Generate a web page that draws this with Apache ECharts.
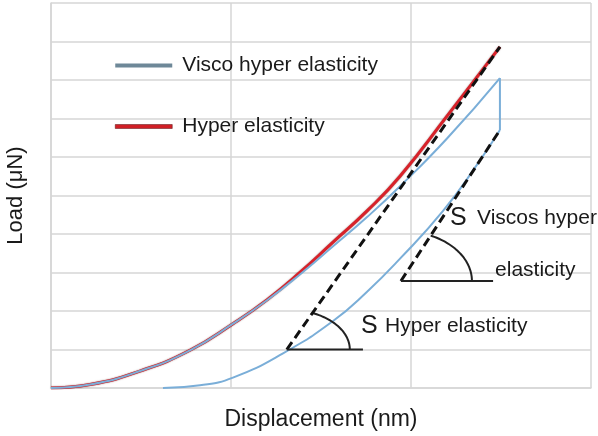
<!DOCTYPE html>
<html>
<head>
<meta charset="utf-8">
<title>Load vs displacement</title>
<script src="https://cdn.jsdelivr.net/npm/echarts@6/dist/echarts.min.js"></script>
<style>
  html, body { margin: 0; padding: 0; background: #ffffff; }
  #chart { width: 598px; height: 436px; }
</style>
</head>
<body>
<div id="chart"></div>
<script>
// Displacement (x) and load (y) samples, arbitrary units
const hyperX = [0, 0.217, 0.494, 0.772, 1.011, 1.2, 1.383, 1.567, 1.756, 1.939, 2.2, 2.494];
const hyperY = [0, 0.09, 0.44, 0.98, 1.67, 2.29, 3.0, 3.79, 4.6, 5.5, 7.06, 8.86];

const viscoLoadX = [0, 0.217, 0.494, 0.772, 1.011, 1.2, 1.383, 1.567, 1.756, 1.939, 2.2, 2.494];
const viscoLoadY = [0, 0.09, 0.44, 0.98, 1.67, 2.28, 2.95, 3.68, 4.44, 5.24, 6.48, 8.05];

// hold at peak displacement (creep drop)
const viscoHoldX = [2.494, 2.494];
const viscoHoldY = [8.05, 6.70];

// unloading branch, listed from zero load up to the peak
const viscoUnloadX = [0.622, 0.828, 1.011, 1.289, 1.567, 1.756, 1.939, 2.178, 2.367, 2.494];
const viscoUnloadY = [0, 0.07, 0.27, 0.9, 1.74, 2.5, 3.36, 4.6, 5.8, 6.70];

// stiffness tangents: [x0, y0, x1, y1]
const tangentHyper = [1.31, 1.0, 2.494, 8.86];
const tangentVisco = [1.944, 2.78, 2.494, 6.70];
// horizontal reference line length (x end) for each tangent
const baseHyperEnd = 1.733;
const baseViscoEnd = 2.456;

// annotation labels
const noteText = ['S', 'Hyper elasticity', 'S', 'Viscos hyper', 'elasticity'];
const noteX = [1.722, 1.856, 2.217, 2.367, 2.467];
const noteY = [1.61, 1.61, 4.42, 4.42, 3.06];

const NAME_VISCO = 'Visco hyper elasticity';
const NAME_HYPER = 'Hyper elasticity';

const zip = (xs, ys) => xs.map((x, i) => [x, ys[i]]);

const FONT = '"Liberation Sans", Arial, Helvetica, sans-serif';
const GRID_COLOR = '#d6d6d6';
const BLUE = '#7aaed8';
const RED = '#d8222a';

const chart = echarts.init(document.getElementById('chart'));

// angle arc between the horizontal base line and a tangent line
function arcRenderer(rx, ry) {
  return function (params, api) {
    const v = api.coord([api.value(0), api.value(1)]);
    const e = api.coord([api.value(2), api.value(3)]);
    const end = Math.atan2(v[1] - e[1], e[0] - v[0]);
    // point where the ellipse meets the tangent direction
    const dx = Math.cos(end), dy = Math.sin(end);
    const t = 1 / Math.sqrt((dx / rx) * (dx / rx) + (dy / ry) * (dy / ry));
    const theta = Math.atan2((t * dy) / ry, (t * dx) / rx);
    const pts = [];
    const n = 40;
    for (let i = 0; i <= n; i++) {
      const a = (theta * i) / n;
      pts.push([v[0] + rx * Math.cos(a), v[1] - ry * Math.sin(a)]);
    }
    return {
      type: 'polyline',
      shape: { points: pts },
      style: { stroke: '#222', lineWidth: 2, fill: null }
    };
  };
}

const curve = { type: 'line', smooth: 0.5, showSymbol: false };

const option = {
  animation: false,
  backgroundColor: '#ffffff',
  grid: { left: 51, right: 7, top: 3, bottom: 48, outerBoundsMode: 'none' },
  legend: {
    left: 115,
    top: 55,
    padding: 0,
    orient: 'vertical',
    itemWidth: 57,
    itemHeight: 4,
    itemGap: 40,
    icon: 'rect',
    textStyle: { fontFamily: FONT, fontSize: 21, color: '#1a1a1a', padding: [0, 0, 0, 5] },
    data: [
      { name: NAME_VISCO, itemStyle: { color: '#6e8898' } },
      { name: NAME_HYPER, itemStyle: { color: '#d01f26', borderColor: '#5a1012', borderWidth: 0.5 } }
    ]
  },
  xAxis: {
    type: 'value',
    min: 0, max: 3, interval: 1,
    name: 'Displacement (nm)',
    nameLocation: 'middle',
    nameGap: 20,
    nameTextStyle: { fontFamily: FONT, fontSize: 23, color: '#1a1a1a' },
    axisLine: { show: true, lineStyle: { color: GRID_COLOR, width: 1.5 } },
    axisTick: { show: false },
    axisLabel: { show: false },
    splitLine: { show: true, lineStyle: { color: GRID_COLOR, width: 1.5 } }
  },
  yAxis: {
    type: 'value',
    min: 0, max: 10, interval: 1,
    name: 'Load (μN)',
    nameLocation: 'middle',
    nameGap: 24,
    nameTextStyle: { fontFamily: FONT, fontSize: 22, color: '#1a1a1a' },
    axisLine: { show: true, lineStyle: { color: GRID_COLOR, width: 1.5 } },
    axisTick: { show: false },
    axisLabel: { show: false },
    splitLine: { show: true, lineStyle: { color: GRID_COLOR, width: 1.5 } }
  },
  series: [
    Object.assign({}, curve, {
      name: NAME_VISCO, data: zip(viscoUnloadX, viscoUnloadY),
      lineStyle: { color: BLUE, width: 2 }, itemStyle: { color: BLUE }
    }),
    {
      name: NAME_VISCO, type: 'line', data: zip(viscoHoldX, viscoHoldY),
      showSymbol: false, lineStyle: { color: BLUE, width: 2 }, itemStyle: { color: BLUE }
    },
    Object.assign({}, curve, {
      name: NAME_HYPER, data: zip(hyperX, hyperY),
      lineStyle: { color: RED, width: 3, shadowColor: 'rgba(60,0,0,0.55)', shadowBlur: 1.5 },
      itemStyle: { color: RED }
    }),
    Object.assign({}, curve, {
      name: NAME_VISCO, data: zip(viscoLoadX, viscoLoadY),
      lineStyle: { color: BLUE, width: 2 }, itemStyle: { color: BLUE }
    }),
    {
      name: 'tangent', type: 'line', showSymbol: false, z: 5,
      data: [[tangentHyper[0], tangentHyper[1]], [tangentHyper[2], tangentHyper[3]], null,
             [tangentVisco[0], tangentVisco[1]], [tangentVisco[2], tangentVisco[3]]],
      lineStyle: { color: '#111', width: 3, type: [9, 5] }
    },
    {
      name: 'base', type: 'line', showSymbol: false, z: 5,
      data: [[tangentHyper[0], tangentHyper[1]], [baseHyperEnd, tangentHyper[1]], null,
             [tangentVisco[0], tangentVisco[1]], [baseViscoEnd, tangentVisco[1]]],
      lineStyle: { color: '#222', width: 2 }
    },
    {
      name: 'angleHyper', type: 'custom', z: 5,
      renderItem: arcRenderer(63, 40),
      data: [tangentHyper]
    },
    {
      name: 'angleVisco', type: 'custom', z: 5,
      renderItem: arcRenderer(71, 50),
      data: [tangentVisco]
    },
    {
      name: 'notes', type: 'custom', z: 6,
      data: zip(noteX, noteY),
      renderItem: function (params, api) {
        const p = api.coord([api.value(0), api.value(1)]);
        const txt = noteText[params.dataIndex];
        return {
          type: 'text',
          x: p[0], y: p[1],
          style: {
            text: txt,
            fontFamily: FONT,
            fontSize: txt === 'S' ? 25 : 21,
            fill: '#1a1a1a',
            verticalAlign: 'middle',
            align: 'left'
          }
        };
      }
    }
  ]
};

chart.setOption(option);
</script>
</body>
</html>
